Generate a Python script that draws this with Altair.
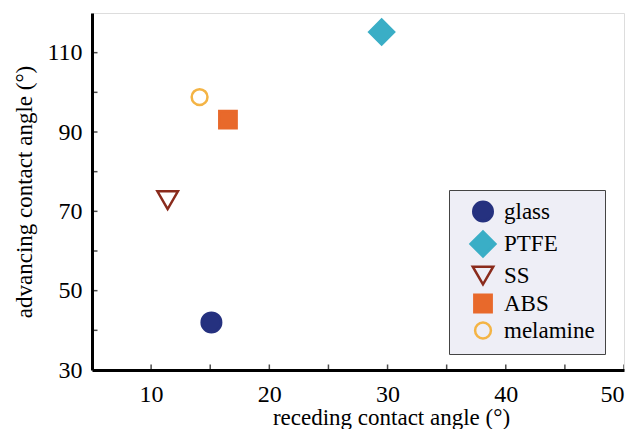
import altair as alt
import pandas as pd

# contact-angle measurements per substrate
materials = ["glass", "PTFE", "SS", "ABS", "melamine"]
receding = [15.1, 29.5, 11.4, 16.5, 14.1]
advancing = [42.0, 115.2, 72.8, 93.1, 98.8]

shapes = ["circle", "diamond", "triangle-down", "square", "circle"]
strokes = ["#25317f", "#3aaec6", "#8a2b1c", "#e8692b", "#f4b445"]
fills = ["#25317f", "#3aaec6", "transparent", "#e8692b", "transparent"]
sizes = [380, 620, 420, 300, 250]

x_ticks = [10, 15, 20, 25, 30, 35, 40, 45, 50]
y_ticks = [40, 50, 60, 70, 80, 90, 100, 110]

df = pd.DataFrame({"material": materials, "receding": receding, "advancing": advancing})
xt = pd.DataFrame({"v": x_ticks})
yt = pd.DataFrame({"v": y_ticks})

FONT = "Liberation Serif, Times New Roman, serif"
W, H = 532, 357

xs = alt.Scale(domain=[5, 50], nice=False)
ys = alt.Scale(domain=[30, 120], nice=False)

axis_style = dict(
    domainColor="black", domainWidth=3, ticks=False, grid=False,
    labelFont=FONT, labelFontSize=24, labelColor="black",
    titleFont=FONT, titleFontSize=23, titleColor="black", titleFontWeight="normal",
)

# non-breaking spaces widen the legend box on the right
leg = alt.Legend(
    orient="none", legendX=357, legendY=177,
    fillColor="#eeeef6", strokeColor="#444444",
    padding=10, rowPadding=-1, symbolOffset=10, labelFont=FONT, labelFontSize=23,
    labelColor="black", symbolStrokeWidth=2.5, labelOffset=7,
    labelExpr="datum.label + '\u00a0\u00a0\u00a0'",
)

points = alt.Chart(df).mark_point(strokeWidth=2.5, opacity=1).encode(
    x=alt.X("receding:Q", scale=xs,
            axis=alt.Axis(values=[10, 20, 30, 40, 50], title="receding contact angle (°)",
                          titleX=299, titlePadding=0, labelPadding=12, **axis_style)),
    y=alt.Y("advancing:Q", scale=ys,
            axis=alt.Axis(values=[30, 50, 70, 90, 110], title="advancing contact angle (°)",
                          titlePadding=10, labelPadding=10, **axis_style)),
    shape=alt.Shape("material:N", scale=alt.Scale(domain=materials, range=shapes), legend=leg, title=None),
    stroke=alt.Stroke("material:N", scale=alt.Scale(domain=materials, range=strokes), legend=leg, title=None),
    fill=alt.Fill("material:N", scale=alt.Scale(domain=materials, range=fills), legend=leg, title=None),
    size=alt.Size("material:N", scale=alt.Scale(type="ordinal", domain=materials, range=sizes),
                  legend=leg, title=None),
)

# inward-pointing ticks, clipped to the plot area
xtick = alt.Chart(xt).mark_tick(clip=True, size=11, thickness=1.5, color="black", orient="vertical").encode(
    x=alt.X("v:Q", scale=xs), y=alt.datum(30, scale=ys)
)
ytick = alt.Chart(yt).mark_tick(clip=True, size=11, thickness=1.5, color="black", orient="horizontal").encode(
    y=alt.Y("v:Q", scale=ys), x=alt.datum(5, scale=xs)
)

chart = alt.layer(xtick, ytick, points).properties(
    width=W, height=H,
    autosize=alt.AutoSizeParams(type="none"),
    padding={"left": 92, "top": 13, "right": 15, "bottom": 59},
    background="white",
).configure_view(stroke=None).configure(font=FONT)

chart.save("out.html", embed_options={"renderer": "svg", "actions": False})
